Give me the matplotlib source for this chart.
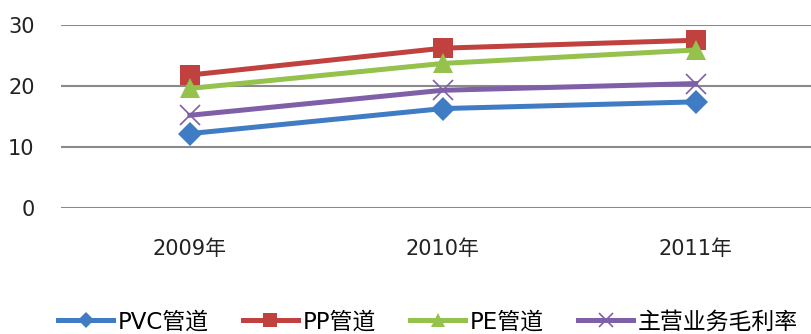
import matplotlib
matplotlib.use("Agg")
import matplotlib.pyplot as plt

plt.rcParams['font.family'] = ['DejaVu Sans', 'Noto Sans CJK SC']

categories = ["2009年", "2010年", "2011年"]
pvc = [12.2, 16.3, 17.4]
pp = [21.8, 26.2, 27.5]
pe = [19.6, 23.7, 25.9]
gross = [15.2, 19.3, 20.4]
series_names = ["PVC管道", "PP管道", "PE管道", "主营业务毛利率"]
yticks = [0, 10, 20, 30]

fig = plt.figure(figsize=(8.12, 3.34), dpi=100)
ax = fig.add_axes([61/812, 1-208/334, 1-61/812, (208-25)/334])

x = list(range(len(categories)))
styles = [
    (pvc, "#3F7CC4", "D", 12),
    (pp, "#C0413E", "s", 14),
    (pe, "#94C24C", "^", 14),
    (gross, "#7F5FA8", "x", 14),
]
for (vals, col, mk, ms), name in zip(styles, series_names):
    kw = dict(markeredgewidth=1.2) if mk == "x" else dict(markeredgewidth=0)
    ax.plot(x, vals, color=col, lw=3.6, marker=mk, markersize=ms,
            markerfacecolor=col, markeredgecolor=col, label=name, **kw)

ax.set_ylim(0, 30)
ax.set_xlim(-0.51, 2.46)
ax.set_yticks(yticks)
ax.set_xticks(x)
ax.set_xticklabels(categories)
ax.yaxis.grid(True, color="#8a8a8a", lw=1.5)
ax.set_axisbelow(True)
for s in ax.spines.values():
    s.set_visible(False)
ax.tick_params(axis='both', length=0, labelsize=15, colors="#222222")
ax.tick_params(axis='y', pad=19)
ax.tick_params(axis='x', pad=22)

fig.legend(loc="center", bbox_to_anchor=(0.527, 1-322/334), ncol=4,
           frameon=False, fontsize=16.5, handlelength=2.4, columnspacing=1.5,
           handletextpad=0.2, markerscale=0.7)

fig.savefig("out.png", dpi=100)
